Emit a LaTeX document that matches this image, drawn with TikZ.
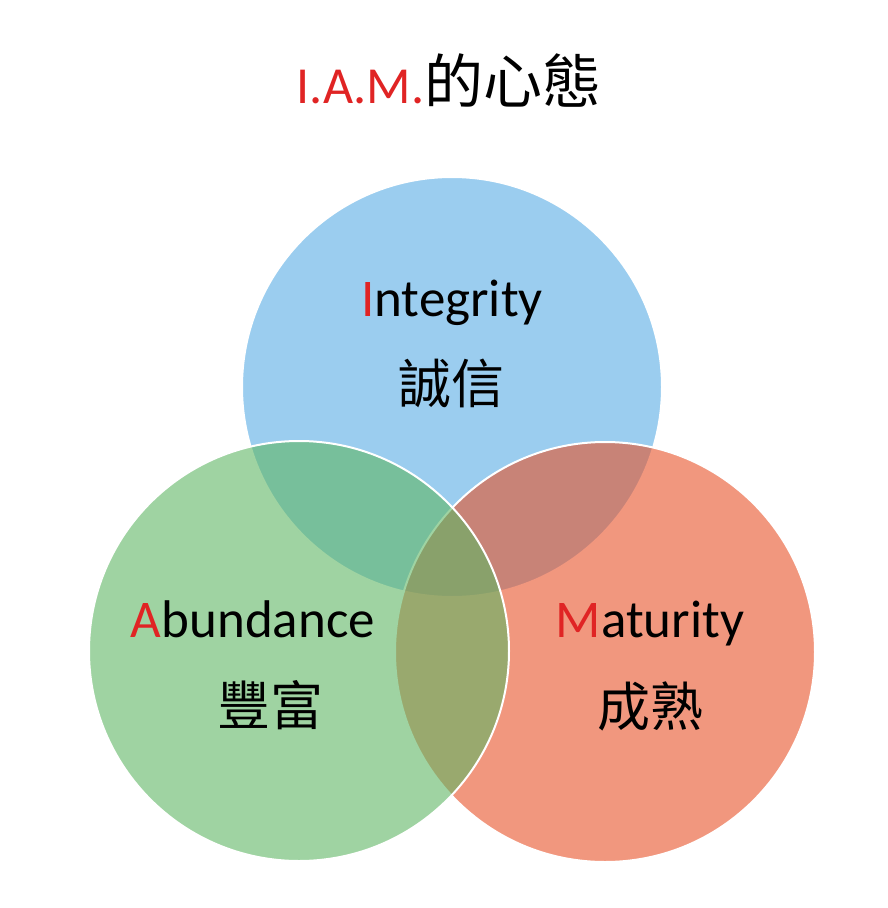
\documentclass[tikz,border=0pt]{standalone}
\usepackage{fontspec}
\setmainfont{Carlito}
\newfontfamily\cjk{Noto Sans CJK TC}
\usetikzlibrary{positioning}
\definecolor{iamred}{HTML}{E02424}
\definecolor{integc}{RGB}{88,172,228}
\definecolor{maturc}{RGB}{232,82,40}
\definecolor{abundc}{RGB}{95,182,100}

\begin{document}
\begin{tikzpicture}[x=1pt,y=-1pt,
    setcirc/.style={circle,inner sep=0pt,minimum size=420pt,draw=white,line width=2pt,fill opacity=0.6},
    engl/.style={anchor=base,font=\fontsize{53}{60}\selectfont},
    chin/.style={font=\fontsize{53}{60}\selectfont\cjk}]
    \useasboundingbox (0,0) rectangle (887,908);
    \node[anchor=base,font=\fontsize{52}{58}\selectfont] (title) at (449,103) {\textcolor{iamred}{I.A.M.}{\cjk\fontsize{59}{62}\selectfont 的心態}};
    \foreach \nm/\cx/\cy/\col in {integ/452/387/integc, matur/605/652/maturc, abund/299/651/abundc} {
      \node[setcirc,fill=\col] (\nm) at (\cx,\cy) {};
    }
    \node[engl] (integE) at (452,316) {\textcolor{iamred}{I}ntegrity};
    \node[chin] (integC) at (451,383) {誠信};
    \node[engl] (abundE) at (253,637) {\textcolor{iamred}{A}bundance};
    \node[chin] (abundC) at (270,705) {豐富};
    \node[engl] (maturE) at (650,637) {\textcolor{iamred}{M}aturity};
    \node[chin] (maturC) at (650,706) {成熟};
  \end{tikzpicture}
\end{document}
